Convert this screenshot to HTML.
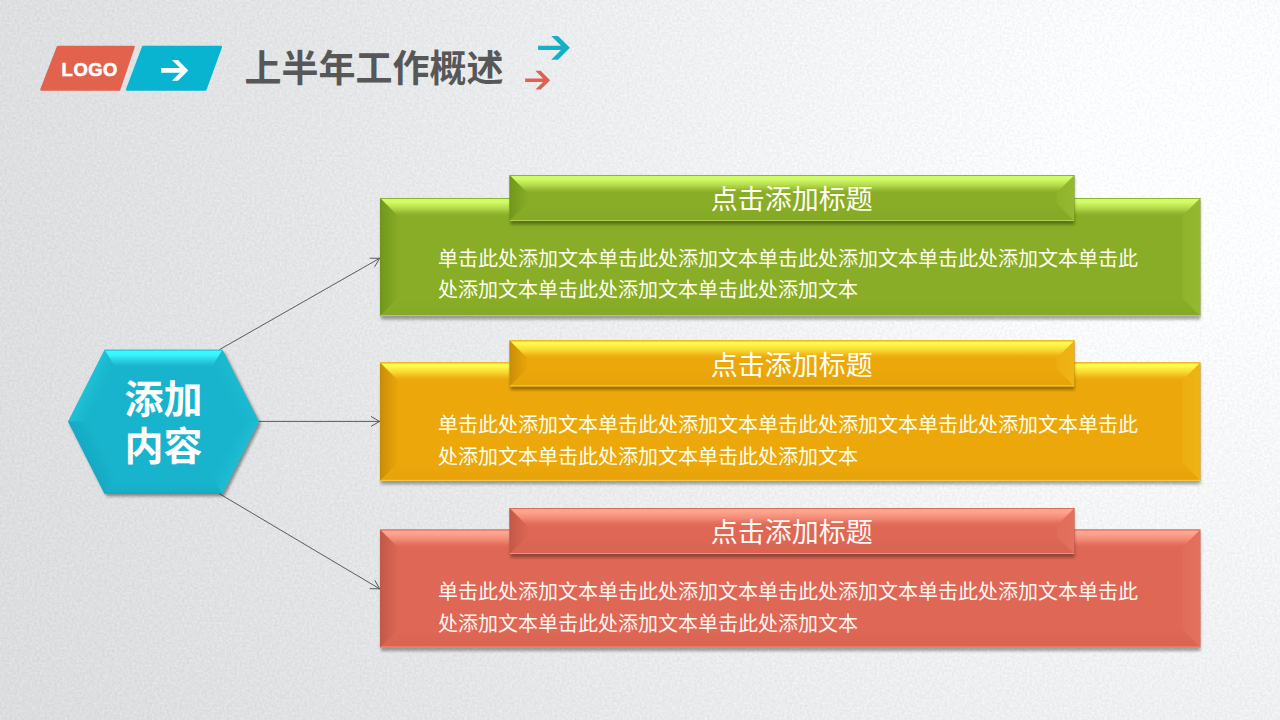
<!DOCTYPE html>
<html lang="zh-CN"><head><meta charset="utf-8"><title>上半年工作概述</title>
<style>
html,body{margin:0;padding:0;}
body{width:1280px;height:720px;overflow:hidden;position:relative;font-family:"Liberation Sans","Noto Sans CJK SC",sans-serif;
background: radial-gradient(circle at 1200px 160px, #FBFCFE 130px, #F0F1F3 500px, #E7E8EA 770px, #E0E1E3 1180px, #DDDEE0 1360px);}
svg{position:absolute;left:0;top:0;}
svg text{font-family:"Liberation Sans","Noto Sans CJK SC",sans-serif;}
.logo{position:absolute;left:61.6px;top:59.2px;font-size:18.4px;line-height:22px;font-weight:bold;color:#fff;letter-spacing:0.55px;-webkit-text-stroke:0.6px #fff;}
</style></head><body>
<svg width="1280" height="720" viewBox="0 0 1280 720">
<defs><linearGradient id="L1" gradientUnits="userSpaceOnUse" x1="0.00" y1="198.00" x2="0.00" y2="216.00"><stop offset="0" stop-color="#D2FC66" stop-opacity="1"/><stop offset="0.22" stop-color="#D2FC66" stop-opacity="1"/><stop offset="0.55" stop-color="#D2FC66" stop-opacity="0.6"/><stop offset="0.85" stop-color="#D2FC66" stop-opacity="0.12"/><stop offset="1" stop-color="#D2FC66" stop-opacity="0"/></linearGradient><linearGradient id="L2" gradientUnits="userSpaceOnUse" x1="380.00" y1="0.00" x2="398.00" y2="0.00"><stop offset="0" stop-color="#6C941A" stop-opacity="1"/><stop offset="0.1" stop-color="#6C941A" stop-opacity="0.8"/><stop offset="0.6" stop-color="#6C941A" stop-opacity="0.36"/><stop offset="1" stop-color="#6C941A" stop-opacity="0.08"/></linearGradient><linearGradient id="L3" gradientUnits="userSpaceOnUse" x1="1200.40" y1="0.00" x2="1182.40" y2="0.00"><stop offset="0" stop-color="#6C941A" stop-opacity="0.4"/><stop offset="0.07" stop-color="#D2FC66" stop-opacity="0.16"/><stop offset="1" stop-color="#D2FC66" stop-opacity="0.08"/></linearGradient><linearGradient id="L4" gradientUnits="userSpaceOnUse" x1="0.00" y1="316.00" x2="0.00" y2="298.00"><stop offset="0" stop-color="#6C941A" stop-opacity="0.16"/><stop offset="0.5" stop-color="#6C941A" stop-opacity="0.08"/><stop offset="1" stop-color="#6C941A" stop-opacity="0"/></linearGradient><linearGradient id="L5" gradientUnits="userSpaceOnUse" x1="0.00" y1="175.00" x2="0.00" y2="193.00"><stop offset="0" stop-color="#D2FC66" stop-opacity="1"/><stop offset="0.22" stop-color="#D2FC66" stop-opacity="1"/><stop offset="0.55" stop-color="#D2FC66" stop-opacity="0.6"/><stop offset="0.85" stop-color="#D2FC66" stop-opacity="0.12"/><stop offset="1" stop-color="#D2FC66" stop-opacity="0"/></linearGradient><linearGradient id="L6" gradientUnits="userSpaceOnUse" x1="509.50" y1="0.00" x2="527.50" y2="0.00"><stop offset="0" stop-color="#6C941A" stop-opacity="1"/><stop offset="0.1" stop-color="#6C941A" stop-opacity="0.8"/><stop offset="0.6" stop-color="#6C941A" stop-opacity="0.36"/><stop offset="1" stop-color="#6C941A" stop-opacity="0.08"/></linearGradient><linearGradient id="L7" gradientUnits="userSpaceOnUse" x1="1074.50" y1="0.00" x2="1056.50" y2="0.00"><stop offset="0" stop-color="#6C941A" stop-opacity="0.4"/><stop offset="0.07" stop-color="#D2FC66" stop-opacity="0.16"/><stop offset="1" stop-color="#D2FC66" stop-opacity="0.08"/></linearGradient><linearGradient id="L8" gradientUnits="userSpaceOnUse" x1="0.00" y1="221.00" x2="0.00" y2="203.00"><stop offset="0" stop-color="#6C941A" stop-opacity="0.16"/><stop offset="0.5" stop-color="#6C941A" stop-opacity="0.08"/><stop offset="1" stop-color="#6C941A" stop-opacity="0"/></linearGradient><linearGradient id="L9" gradientUnits="userSpaceOnUse" x1="0.00" y1="362.40" x2="0.00" y2="380.40"><stop offset="0" stop-color="#FFF84A" stop-opacity="1"/><stop offset="0.22" stop-color="#FFF84A" stop-opacity="1"/><stop offset="0.55" stop-color="#FFF84A" stop-opacity="0.6"/><stop offset="0.85" stop-color="#FFF84A" stop-opacity="0.12"/><stop offset="1" stop-color="#FFF84A" stop-opacity="0"/></linearGradient><linearGradient id="L10" gradientUnits="userSpaceOnUse" x1="380.00" y1="0.00" x2="398.00" y2="0.00"><stop offset="0" stop-color="#C48A06" stop-opacity="1"/><stop offset="0.1" stop-color="#C48A06" stop-opacity="0.8"/><stop offset="0.6" stop-color="#C48A06" stop-opacity="0.36"/><stop offset="1" stop-color="#C48A06" stop-opacity="0.08"/></linearGradient><linearGradient id="L11" gradientUnits="userSpaceOnUse" x1="1200.40" y1="0.00" x2="1182.40" y2="0.00"><stop offset="0" stop-color="#C48A06" stop-opacity="0.4"/><stop offset="0.07" stop-color="#FFF84A" stop-opacity="0.16"/><stop offset="1" stop-color="#FFF84A" stop-opacity="0.08"/></linearGradient><linearGradient id="L12" gradientUnits="userSpaceOnUse" x1="0.00" y1="480.80" x2="0.00" y2="462.80"><stop offset="0" stop-color="#C48A06" stop-opacity="0.16"/><stop offset="0.5" stop-color="#C48A06" stop-opacity="0.08"/><stop offset="1" stop-color="#C48A06" stop-opacity="0"/></linearGradient><linearGradient id="L13" gradientUnits="userSpaceOnUse" x1="0.00" y1="340.40" x2="0.00" y2="358.40"><stop offset="0" stop-color="#FFF84A" stop-opacity="1"/><stop offset="0.22" stop-color="#FFF84A" stop-opacity="1"/><stop offset="0.55" stop-color="#FFF84A" stop-opacity="0.6"/><stop offset="0.85" stop-color="#FFF84A" stop-opacity="0.12"/><stop offset="1" stop-color="#FFF84A" stop-opacity="0"/></linearGradient><linearGradient id="L14" gradientUnits="userSpaceOnUse" x1="509.50" y1="0.00" x2="527.50" y2="0.00"><stop offset="0" stop-color="#C48A06" stop-opacity="1"/><stop offset="0.1" stop-color="#C48A06" stop-opacity="0.8"/><stop offset="0.6" stop-color="#C48A06" stop-opacity="0.36"/><stop offset="1" stop-color="#C48A06" stop-opacity="0.08"/></linearGradient><linearGradient id="L15" gradientUnits="userSpaceOnUse" x1="1074.50" y1="0.00" x2="1056.50" y2="0.00"><stop offset="0" stop-color="#C48A06" stop-opacity="0.4"/><stop offset="0.07" stop-color="#FFF84A" stop-opacity="0.16"/><stop offset="1" stop-color="#FFF84A" stop-opacity="0.08"/></linearGradient><linearGradient id="L16" gradientUnits="userSpaceOnUse" x1="0.00" y1="386.40" x2="0.00" y2="368.40"><stop offset="0" stop-color="#C48A06" stop-opacity="0.16"/><stop offset="0.5" stop-color="#C48A06" stop-opacity="0.08"/><stop offset="1" stop-color="#C48A06" stop-opacity="0"/></linearGradient><linearGradient id="L17" gradientUnits="userSpaceOnUse" x1="0.00" y1="529.50" x2="0.00" y2="547.50"><stop offset="0" stop-color="#FFA48E" stop-opacity="1"/><stop offset="0.22" stop-color="#FFA48E" stop-opacity="1"/><stop offset="0.55" stop-color="#FFA48E" stop-opacity="0.6"/><stop offset="0.85" stop-color="#FFA48E" stop-opacity="0.12"/><stop offset="1" stop-color="#FFA48E" stop-opacity="0"/></linearGradient><linearGradient id="L18" gradientUnits="userSpaceOnUse" x1="380.00" y1="0.00" x2="398.00" y2="0.00"><stop offset="0" stop-color="#BF5645" stop-opacity="1"/><stop offset="0.1" stop-color="#BF5645" stop-opacity="0.8"/><stop offset="0.6" stop-color="#BF5645" stop-opacity="0.36"/><stop offset="1" stop-color="#BF5645" stop-opacity="0.08"/></linearGradient><linearGradient id="L19" gradientUnits="userSpaceOnUse" x1="1200.40" y1="0.00" x2="1182.40" y2="0.00"><stop offset="0" stop-color="#BF5645" stop-opacity="0.4"/><stop offset="0.07" stop-color="#FFA48E" stop-opacity="0.16"/><stop offset="1" stop-color="#FFA48E" stop-opacity="0.08"/></linearGradient><linearGradient id="L20" gradientUnits="userSpaceOnUse" x1="0.00" y1="647.50" x2="0.00" y2="629.50"><stop offset="0" stop-color="#BF5645" stop-opacity="0.16"/><stop offset="0.5" stop-color="#BF5645" stop-opacity="0.08"/><stop offset="1" stop-color="#BF5645" stop-opacity="0"/></linearGradient><linearGradient id="L21" gradientUnits="userSpaceOnUse" x1="0.00" y1="508.00" x2="0.00" y2="526.00"><stop offset="0" stop-color="#FFA48E" stop-opacity="1"/><stop offset="0.22" stop-color="#FFA48E" stop-opacity="1"/><stop offset="0.55" stop-color="#FFA48E" stop-opacity="0.6"/><stop offset="0.85" stop-color="#FFA48E" stop-opacity="0.12"/><stop offset="1" stop-color="#FFA48E" stop-opacity="0"/></linearGradient><linearGradient id="L22" gradientUnits="userSpaceOnUse" x1="509.50" y1="0.00" x2="527.50" y2="0.00"><stop offset="0" stop-color="#BF5645" stop-opacity="1"/><stop offset="0.1" stop-color="#BF5645" stop-opacity="0.8"/><stop offset="0.6" stop-color="#BF5645" stop-opacity="0.36"/><stop offset="1" stop-color="#BF5645" stop-opacity="0.08"/></linearGradient><linearGradient id="L23" gradientUnits="userSpaceOnUse" x1="1074.50" y1="0.00" x2="1056.50" y2="0.00"><stop offset="0" stop-color="#BF5645" stop-opacity="0.4"/><stop offset="0.07" stop-color="#FFA48E" stop-opacity="0.16"/><stop offset="1" stop-color="#FFA48E" stop-opacity="0.08"/></linearGradient><linearGradient id="L24" gradientUnits="userSpaceOnUse" x1="0.00" y1="554.00" x2="0.00" y2="536.00"><stop offset="0" stop-color="#BF5645" stop-opacity="0.16"/><stop offset="0.5" stop-color="#BF5645" stop-opacity="0.08"/><stop offset="1" stop-color="#BF5645" stop-opacity="0"/></linearGradient><linearGradient id="L25" gradientUnits="userSpaceOnUse" x1="68.00" y1="421.60" x2="84.05" y2="429.75"><stop offset="0" stop-color="#3CF8FF" stop-opacity="0.2"/><stop offset="0.5" stop-color="#3CF8FF" stop-opacity="0.08"/><stop offset="1" stop-color="#3CF8FF" stop-opacity="0"/></linearGradient><linearGradient id="L26" gradientUnits="userSpaceOnUse" x1="104.50" y1="349.75" x2="104.50" y2="367.75"><stop offset="0" stop-color="#3CF8FF" stop-opacity="1"/><stop offset="0.28" stop-color="#3CF8FF" stop-opacity="0.95"/><stop offset="0.55" stop-color="#3CF8FF" stop-opacity="0.5"/><stop offset="0.85" stop-color="#3CF8FF" stop-opacity="0.08"/><stop offset="1" stop-color="#3CF8FF" stop-opacity="0"/></linearGradient><linearGradient id="L27" gradientUnits="userSpaceOnUse" x1="222.50" y1="349.75" x2="206.45" y2="357.90"><stop offset="0" stop-color="#3CF8FF" stop-opacity="0.1"/><stop offset="1" stop-color="#3CF8FF" stop-opacity="0"/></linearGradient><linearGradient id="L28" gradientUnits="userSpaceOnUse" x1="259.00" y1="421.60" x2="242.94" y2="413.47"><stop offset="0" stop-color="#3CF8FF" stop-opacity="0.16"/><stop offset="0.5" stop-color="#3CF8FF" stop-opacity="0.06"/><stop offset="1" stop-color="#3CF8FF" stop-opacity="0.0"/></linearGradient><linearGradient id="L29" gradientUnits="userSpaceOnUse" x1="222.50" y1="493.75" x2="222.50" y2="475.75"><stop offset="0" stop-color="#0B8FA8" stop-opacity="0.35"/><stop offset="0.12" stop-color="#0B8FA8" stop-opacity="0.1"/><stop offset="0.5" stop-color="#0B8FA8" stop-opacity="0.04"/><stop offset="1" stop-color="#0B8FA8" stop-opacity="0.0"/></linearGradient><linearGradient id="L30" gradientUnits="userSpaceOnUse" x1="104.50" y1="493.75" x2="120.56" y2="485.62"><stop offset="0" stop-color="#0B8FA8" stop-opacity="0.26"/><stop offset="0.5" stop-color="#0B8FA8" stop-opacity="0.12"/><stop offset="1" stop-color="#0B8FA8" stop-opacity="0.0"/></linearGradient><filter id="sh" x="-5%" y="-20%" width="110%" height="140%"><feGaussianBlur stdDeviation="1.6"/></filter><filter id="noise" color-interpolation-filters="sRGB" x="0" y="0" width="100%" height="100%"><feTurbulence type="fractalNoise" baseFrequency="0.4" numOctaves="2" seed="3"/><feColorMatrix type="matrix" values="1 0 0 0 0  1 0 0 0 0  1 0 0 0 0  0 0 0 0 1" result="n"/><feComposite in="SourceGraphic" in2="n" operator="arithmetic" k1="0" k2="1" k3="0.09" k4="-0.045"/></filter><radialGradient id="bg" gradientUnits="userSpaceOnUse" cx="1200" cy="160" r="1360"><stop offset="0.000" stop-color="#FCFDFF"/><stop offset="0.096" stop-color="#FBFCFE"/><stop offset="0.368" stop-color="#F0F1F3"/><stop offset="0.566" stop-color="#E8E9EB"/><stop offset="0.662" stop-color="#E4E5E7"/><stop offset="0.868" stop-color="#DEDFE1"/><stop offset="0.956" stop-color="#DCDDDF"/><stop offset="1.000" stop-color="#DBDCDE"/></radialGradient></defs>
<rect width="1280" height="720" fill="url(#bg)" filter="url(#noise)"/>
<g stroke="#5a5a5a" stroke-width="1.0" stroke-linecap="round" fill="none"><line x1="219.50" y1="349.60" x2="379.60" y2="258.30"/><line x1="379.60" y1="258.30" x2="374.81" y2="266.50"/><line x1="379.60" y1="258.30" x2="370.10" y2="258.25"/></g>
<g stroke="#5a5a5a" stroke-width="1.0" stroke-linecap="round" fill="none"><line x1="258.00" y1="421.40" x2="379.60" y2="421.40"/><line x1="379.60" y1="421.40" x2="371.37" y2="426.15"/><line x1="379.60" y1="421.40" x2="371.37" y2="416.65"/></g>
<g stroke="#5a5a5a" stroke-width="1.0" stroke-linecap="round" fill="none"><line x1="219.50" y1="493.80" x2="379.60" y2="588.80"/><line x1="379.60" y1="588.80" x2="370.10" y2="588.69"/><line x1="379.60" y1="588.80" x2="374.95" y2="580.52"/></g>
<rect x="381.00" y="200.00" width="819.40" height="119.50" fill="#000" opacity="0.34" filter="url(#sh)"/><rect x="380.00" y="198.00" width="820.40" height="118.00" fill="#89AD27"/><polygon points="380.00,198.00 1200.40,198.00 1182.40,216.00 398.00,216.00" fill="url(#L1)"/><polygon points="380.00,198.00 398.00,216.00 398.00,298.00 380.00,316.00" fill="url(#L2)"/><polygon points="1200.40,198.00 1182.40,216.00 1182.40,298.00 1200.40,316.00" fill="url(#L3)"/><polygon points="380.00,316.00 398.00,298.00 1182.40,298.00 1200.40,316.00" fill="url(#L4)"/><rect x="380.50" y="315.00" width="819.40" height="1" fill="#B4D85C" opacity="0.85"/><rect x="380.00" y="198.00" width="820.40" height="1" fill="#8FB533"/>
<rect x="510.50" y="177.00" width="564.00" height="47.50" fill="#000" opacity="0.34" filter="url(#sh)"/><rect x="509.50" y="175.00" width="565.00" height="46.00" fill="#89AD27"/><polygon points="509.50,175.00 1074.50,175.00 1056.50,193.00 527.50,193.00" fill="url(#L5)"/><polygon points="509.50,175.00 527.50,193.00 527.50,203.00 509.50,221.00" fill="url(#L6)"/><polygon points="1074.50,175.00 1056.50,193.00 1056.50,203.00 1074.50,221.00" fill="url(#L7)"/><polygon points="509.50,221.00 527.50,203.00 1056.50,203.00 1074.50,221.00" fill="url(#L8)"/><rect x="510.00" y="220.00" width="564.00" height="1" fill="#B4D85C" opacity="0.85"/><rect x="509.50" y="175.00" width="565.00" height="1" fill="#8FB533"/>
<text x="710.7" y="209.05" font-size="27" fill="#FFFFF0">点击添加标题</text>
<text x="438" y="265.7" font-size="20" fill="#FFFFF0">单击此处添加文本单击此处添加文本单击此处添加文本单击此处添加文本单击此</text>
<text x="438" y="296.6" font-size="20" fill="#FFFFF0">处添加文本单击此处添加文本单击此处添加文本</text>
<rect x="381.00" y="364.40" width="819.40" height="119.90" fill="#000" opacity="0.34" filter="url(#sh)"/><rect x="380.00" y="362.40" width="820.40" height="118.40" fill="#ECA70B"/><polygon points="380.00,362.40 1200.40,362.40 1182.40,380.40 398.00,380.40" fill="url(#L9)"/><polygon points="380.00,362.40 398.00,380.40 398.00,462.80 380.00,480.80" fill="url(#L10)"/><polygon points="1200.40,362.40 1182.40,380.40 1182.40,462.80 1200.40,480.80" fill="url(#L11)"/><polygon points="380.00,480.80 398.00,462.80 1182.40,462.80 1200.40,480.80" fill="url(#L12)"/><rect x="380.50" y="479.80" width="819.40" height="1" fill="#FFD95A" opacity="0.85"/><rect x="380.00" y="362.40" width="820.40" height="1" fill="#E0A60F"/>
<rect x="510.50" y="342.40" width="564.00" height="47.50" fill="#000" opacity="0.34" filter="url(#sh)"/><rect x="509.50" y="340.40" width="565.00" height="46.00" fill="#ECA70B"/><polygon points="509.50,340.40 1074.50,340.40 1056.50,358.40 527.50,358.40" fill="url(#L13)"/><polygon points="509.50,340.40 527.50,358.40 527.50,368.40 509.50,386.40" fill="url(#L14)"/><polygon points="1074.50,340.40 1056.50,358.40 1056.50,368.40 1074.50,386.40" fill="url(#L15)"/><polygon points="509.50,386.40 527.50,368.40 1056.50,368.40 1074.50,386.40" fill="url(#L16)"/><rect x="510.00" y="385.40" width="564.00" height="1" fill="#FFD95A" opacity="0.85"/><rect x="509.50" y="340.40" width="565.00" height="1" fill="#E0A60F"/>
<text x="710.7" y="374.95" font-size="27" fill="#FFFFEE">点击添加标题</text>
<text x="438" y="431.8" font-size="20" fill="#FFFFEE">单击此处添加文本单击此处添加文本单击此处添加文本单击此处添加文本单击此</text>
<text x="438" y="463.8" font-size="20" fill="#FFFFEE">处添加文本单击此处添加文本单击此处添加文本</text>
<rect x="381.00" y="531.50" width="819.40" height="119.50" fill="#000" opacity="0.34" filter="url(#sh)"/><rect x="380.00" y="529.50" width="820.40" height="118.00" fill="#DE6755"/><polygon points="380.00,529.50 1200.40,529.50 1182.40,547.50 398.00,547.50" fill="url(#L17)"/><polygon points="380.00,529.50 398.00,547.50 398.00,629.50 380.00,647.50" fill="url(#L18)"/><polygon points="1200.40,529.50 1182.40,547.50 1182.40,629.50 1200.40,647.50" fill="url(#L19)"/><polygon points="380.00,647.50 398.00,629.50 1182.40,629.50 1200.40,647.50" fill="url(#L20)"/><rect x="380.50" y="646.50" width="819.40" height="1" fill="#F49A88" opacity="0.85"/><rect x="380.00" y="529.50" width="820.40" height="1" fill="#D8705E"/>
<rect x="510.50" y="510.00" width="564.00" height="47.50" fill="#000" opacity="0.34" filter="url(#sh)"/><rect x="509.50" y="508.00" width="565.00" height="46.00" fill="#DE6755"/><polygon points="509.50,508.00 1074.50,508.00 1056.50,526.00 527.50,526.00" fill="url(#L21)"/><polygon points="509.50,508.00 527.50,526.00 527.50,536.00 509.50,554.00" fill="url(#L22)"/><polygon points="1074.50,508.00 1056.50,526.00 1056.50,536.00 1074.50,554.00" fill="url(#L23)"/><polygon points="509.50,554.00 527.50,536.00 1056.50,536.00 1074.50,554.00" fill="url(#L24)"/><rect x="510.00" y="553.00" width="564.00" height="1" fill="#F49A88" opacity="0.85"/><rect x="509.50" y="508.00" width="565.00" height="1" fill="#D8705E"/>
<text x="710.7" y="541.85" font-size="27" fill="#FFF7F3">点击添加标题</text>
<text x="438" y="598.9" font-size="20" fill="#FFF7F3">单击此处添加文本单击此处添加文本单击此处添加文本单击此处添加文本单击此</text>
<text x="438" y="630.8" font-size="20" fill="#FFF7F3">处添加文本单击此处添加文本单击此处添加文本</text>
<polygon points="70.00,424.10 106.50,352.25 224.50,352.25 261.00,424.10 224.50,496.25 106.50,496.25" fill="#000" opacity="0.4" filter="url(#sh)"/>
<polygon points="68.00,421.60 104.50,349.75 222.50,349.75 259.00,421.60 222.50,493.75 104.50,493.75" fill="#18B3CC"/>
<polygon points="68.00,421.60 104.50,349.75 115.55,367.75 88.18,421.62" fill="url(#L25)"/>
<polygon points="104.50,349.75 222.50,349.75 211.45,367.75 115.55,367.75" fill="url(#L26)"/>
<polygon points="222.50,349.75 259.00,421.60 238.82,421.62 211.45,367.75" fill="url(#L27)"/>
<polygon points="259.00,421.60 222.50,493.75 211.43,475.75 238.82,421.62" fill="url(#L28)"/>
<polygon points="222.50,493.75 104.50,493.75 115.57,475.75 211.43,475.75" fill="url(#L29)"/>
<polygon points="104.50,493.75 68.00,421.60 88.18,421.62 115.57,475.75" fill="url(#L30)"/>
<line x1="104.5" y1="350.25" x2="222.5" y2="350.25" stroke="#25C4DA" stroke-width="1"/>
<text x="124.5" y="412.8" font-size="39" font-weight="bold" fill="#fff">添加</text>
<text x="124.4" y="460.1" font-size="39" font-weight="bold" fill="#fff">内容</text>
<path d="M58.0 46.95 L133.6 46.95 L119.1 89.55 L41.5 89.55 Z" fill="#E3624E" stroke="#E3624E" stroke-width="2.5" stroke-linejoin="round"/>
<path d="M143.2 46.95 L220.8 46.95 L205.3 89.55 L127.2 89.55 Z" fill="#08B4CF" stroke="#08B4CF" stroke-width="2.5" stroke-linejoin="round"/>
<path d="M172.00 60.10 L178.00 60.10 L188.30 70.40 L178.00 80.70 L172.00 80.70 L180.00 72.70 L161.20 72.70 L161.20 68.10 L180.00 68.10 Z" fill="#fff"/>
<path d="M551.20 35.90 L558.00 35.90 L569.90 47.80 L558.00 59.70 L551.20 59.70 L561.00 49.90 L538.10 49.90 L538.10 45.70 L561.00 45.70 Z" fill="#15AFC6"/>
<path d="M535.40 70.80 L540.70 70.80 L550.10 80.20 L540.70 89.60 L535.40 89.60 L543.05 81.95 L525.10 81.95 L525.10 78.45 L543.05 78.45 Z" fill="#E2614E"/>
<text x="244.5" y="82.4" font-size="37" font-weight="bold" fill="#575757">上半年工作概述</text>
</svg>
<div class="logo">LOGO</div>
</body></html>
